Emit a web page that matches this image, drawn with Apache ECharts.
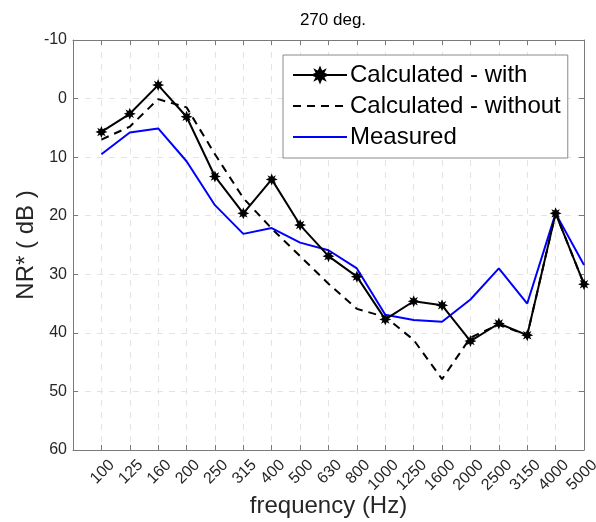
<!DOCTYPE html>
<html>
<head>
<meta charset="utf-8">
<script src="https://cdn.jsdelivr.net/npm/echarts@6/dist/echarts.min.js"></script>
<style>
html,body{margin:0;padding:0;background:#fff;}
#chart{width:596px;height:522px;}
</style>
</head>
<body>
<div id="chart"></div>
<script>
const frequencies = ['100','125','160','200','250','315','400','500','630','800','1000','1250','1600','2000','2500','3150','4000','5000'];
const calculatedWith = [5.7, 2.6, -2.3, 3.1, 13.3, 19.6, 13.8, 21.6, 26.9, 30.4, 37.7, 34.6, 35.3, 41.4, 38.4, 40.4, 19.6, 31.7];
const calculatedWithout = [7.0, 4.8, 0.1, 1.5, 9.5, 17.0, 22.2, 26.9, 31.6, 35.9, 37.3, 41.2, 47.9, 40.8, 38.6, 40.4, 19.6, 31.7];
const measured = [9.5, 5.8, 5.1, 10.7, 18.2, 23.1, 22.1, 24.6, 25.9, 29.0, 36.9, 37.8, 38.1, 34.3, 29.0, 35.0, 19.6, 28.4];
const yTicks = [-10, 0, 10, 20, 30, 40, 50, 60];

const toPoints = arr => arr.map((v, i) => [i + 1, v]);
const starPath = 'path://M20,10L14.62,12.23L17.07,17.07L12.23,14.62L10,20L7.77,14.62L2.93,17.07L5.38,12.23L0,10L5.38,7.77L2.93,2.93L7.77,5.38L10,0L12.23,5.38L17.07,2.93L14.62,7.77Z';
const FONT = 'Liberation Sans, Arial, sans-serif';
const axisColor = '#7a7a7a';
const gridLine = {show: true, lineStyle: {color: '#e3e3e3', type: [6, 6], width: 1}};
const hiddenSymbol = {color: 'rgba(0,0,0,0)', borderWidth: 0};

const chart = echarts.init(document.getElementById('chart'), null, {renderer: 'canvas'});
chart.setOption({
  backgroundColor: '#ffffff',
  animation: false,
  title: {
    text: '270 deg.',
    left: 328, top: 7, textAlign: 'center',
    textStyle: {fontFamily: FONT, fontSize: 17, fontWeight: 'normal', color: '#000'}
  },
  grid: {left: 73, right: 12, top: 40, bottom: 72, containLabel: false, outerBoundsMode: 'none'},
  legend: {
    orient: 'vertical',
    left: 283, top: 55,
    padding: [8, 7, 9, 9],
    itemGap: 7,
    itemWidth: 54, itemHeight: 24,
    backgroundColor: '#fff',
    borderColor: '#8a8a8a', borderWidth: 1,
    textStyle: {fontFamily: FONT, fontSize: 24, color: '#000', padding: [0, 0, 0, -2]},
    data: [
      {name: 'Calculated - with'},
      {name: 'Calculated - without', itemStyle: hiddenSymbol},
      {name: 'Measured', itemStyle: hiddenSymbol}
    ]
  },
  xAxis: [{
    type: 'value', min: 0, max: 18, interval: 1,
    name: 'frequency (Hz)', nameLocation: 'middle', nameGap: 44, nameMoveOverlap: false,
    nameTextStyle: {fontFamily: FONT, fontSize: 24, color: '#262626'},
    axisLine: {show: true, onZero: false, lineStyle: {color: axisColor, width: 1}},
    axisTick: {show: true, inside: true, length: 5, lineStyle: {color: axisColor}},
    axisLabel: {
      rotate: 45, fontFamily: FONT, fontSize: 16, color: '#262626', margin: 2,
      align: 'right', verticalAlign: 'top', padding: [7, 0, 0, 0],
      formatter: v => (v >= 1 && v <= frequencies.length) ? frequencies[v - 1] : ''
    },
    splitLine: gridLine
  }, {
    type: 'value', min: 0, max: 18, interval: 1, position: 'top',
    axisLine: {show: true, onZero: false, lineStyle: {color: axisColor, width: 1}},
    axisTick: {show: true, inside: true, length: 5, lineStyle: {color: axisColor}},
    axisLabel: {show: false}, splitLine: {show: false}
  }],
  yAxis: [{
    type: 'value', inverse: true, min: yTicks[0], max: yTicks[yTicks.length - 1], interval: 10,
    name: 'NR* ( dB )', nameLocation: 'middle', nameGap: 35, nameRotate: 90, nameMoveOverlap: false,
    nameTextStyle: {fontFamily: FONT, fontSize: 24, color: '#262626'},
    axisLine: {show: true, onZero: false, lineStyle: {color: axisColor, width: 1}},
    axisTick: {show: true, inside: true, length: 5, lineStyle: {color: axisColor}},
    axisLabel: {fontFamily: FONT, fontSize: 16, color: '#262626', margin: 6},
    splitLine: gridLine
  }, {
    type: 'value', inverse: true, min: yTicks[0], max: yTicks[yTicks.length - 1], interval: 10, position: 'right',
    axisLine: {show: true, onZero: false, lineStyle: {color: axisColor, width: 1}},
    axisTick: {show: true, inside: true, length: 5, lineStyle: {color: axisColor}},
    axisLabel: {show: false}, splitLine: {show: false}
  }],
  series: [{
    name: 'Calculated - without', type: 'line', data: toPoints(calculatedWithout),
    symbol: 'none', z: 2,
    lineStyle: {color: '#000', width: 2, type: [8, 6]},
    itemStyle: {color: '#000'}
  }, {
    name: 'Measured', type: 'line', data: toPoints(measured),
    symbol: 'none', z: 3,
    lineStyle: {color: '#0000ff', width: 2},
    itemStyle: {color: '#0000ff'}
  }, {
    name: 'Calculated - with', type: 'line', data: toPoints(calculatedWith),
    symbol: starPath, symbolSize: 12, z: 4,
    lineStyle: {color: '#000', width: 2},
    itemStyle: {color: '#000'}
  }]
});
</script>
</body>
</html>
